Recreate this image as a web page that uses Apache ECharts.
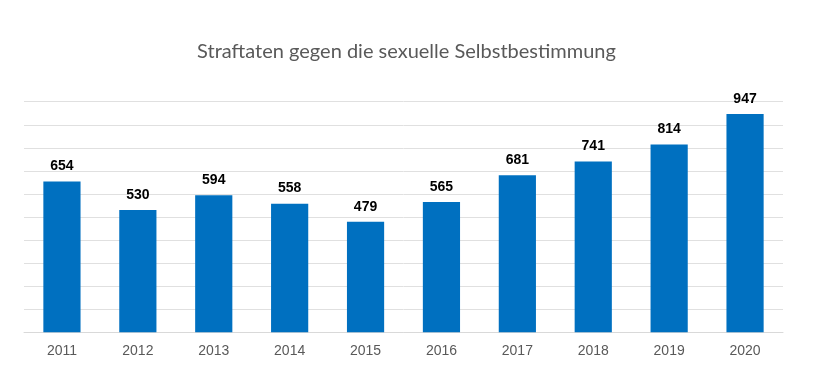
<!DOCTYPE html>
<html><head><meta charset="utf-8">
<script src="https://cdn.jsdelivr.net/npm/echarts@6/dist/echarts.min.js"></script>
<style>html,body{margin:0;padding:0;background:#fff}#c{width:813px;height:372px}</style>
</head><body><div id="c"></div>
<script>
var titleText = 'Straftaten gegen die sexuelle Selbstbestimmung';
var years = ['2011','2012','2013','2014','2015','2016','2017','2018','2019','2020'];
var cases = [654, 530, 594, 558, 479, 565, 681, 741, 814, 947];

var chart = echarts.init(document.getElementById('c'));
chart.setOption({
  animation: false,
  title: {
    text: titleText, left: 'center', top: 37,
    textStyle: { fontFamily: 'Lato', fontSize: 20, fontWeight: 'normal', color: '#595959' }
  },
  grid: { left: 24, right: 30, top: 101.7, bottom: 39.7, containLabel: false },
  xAxis: {
    type: 'category', data: years,
    axisLine: { lineStyle: { color: '#d9d9d9' } },
    axisTick: { show: false },
    axisLabel: { color: '#595959', fontFamily: 'Liberation Sans', fontSize: 14, margin: 12 }
  },
  yAxis: {
    type: 'value', min: 0, max: 1000, interval: 100,
    axisLabel: { show: false }, axisLine: { show: false }, axisTick: { show: false },
    splitLine: { lineStyle: { color: '#e0e0e0' } }
  },
  series: [{
    type: 'bar', data: cases, barWidth: '49%',
    itemStyle: { color: '#0070c0' },
    label: { show: true, position: 'top', distance: 8, color: '#000', fontWeight: 'bold',
             fontFamily: 'Liberation Sans', fontSize: 14 }
  }]
});
</script></body></html>
